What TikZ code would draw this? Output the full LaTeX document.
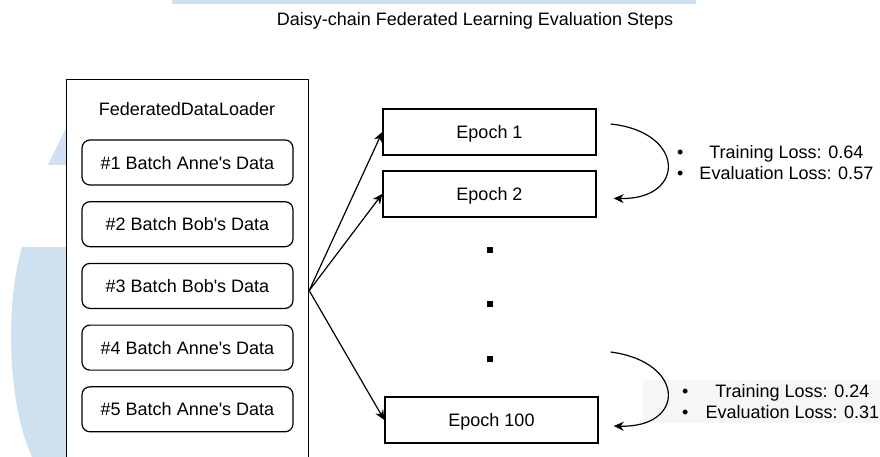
\documentclass[tikz,border=0pt]{standalone}
\usepackage{fontspec}
\setmainfont{Liberation Sans}
\usepackage{xcolor}
\usetikzlibrary{arrows.meta,positioning}
\definecolor{wmblue}{RGB}{207,224,240}
\definecolor{lossbg}{RGB}{246,246,246}

\begin{document}
\begin{tikzpicture}[
    x=1pt, y=-1pt,
    font=\fontsize{18}{21}\selectfont,
    loader/.style={draw, line width=1.2pt, fill=white, anchor=north west, minimum width=242pt, minimum height=400pt},
    batch/.style={draw, line width=1.2pt, rounded corners=8pt, fill=white, minimum width=211pt, minimum height=45pt, text depth=0pt},
    epoch/.style={draw, line width=1.4pt, fill=white, minimum width=213pt, minimum height=46pt, text depth=0pt},
    dotsq/.style={fill=black, minimum size=5.5pt, inner sep=0pt},
    loss/.style={anchor=west, inner sep=0pt},
    arrow/.style={-{Stealth[length=10pt,width=9pt]}, line width=1.2pt}
]
\useasboundingbox (0,0) rectangle (880,457);
\fill[white] (0,0) rectangle (880,457);
\clip (0,0) rectangle (880,457);

% watermark in the background
\fill[wmblue] (172,0) rectangle (696,4);
\fill[wmblue] (48,165) -- (67,126) -- (67,165) -- cycle;
\fill[wmblue] (67,247) -- (22,247) .. controls (6,300) and (6,400) .. (32,457) -- (67,457) -- cycle;
\fill[lossbg] (643,380) rectangle (880,423);

\node[anchor=base] (title) at (475,25.5) {Daisy-chain Federated Learning Evaluation Steps};

% data loader with its batches
\node[loader] (loader) at (66,79) {};
\node[text depth=0pt] (loadername) at (187,109) {FederatedDataLoader};
\node[batch] (b1) at (187.5,162.5) {\#1 Batch Anne\textquotesingle s Data};
\node[batch, below=15.5pt of b1] (b2) {\#2 Batch Bob\textquotesingle s Data};
\node[batch, below=15.5pt of b2] (b3) {\#3 Batch Bob\textquotesingle s Data};
\node[batch, below=15.5pt of b3] (b4) {\#4 Batch Anne\textquotesingle s Data};
\node[batch, below=15.5pt of b4] (b5) {\#5 Batch Anne\textquotesingle s Data};

% epochs
\node[epoch] (e1) at (489.5,132) {Epoch 1};
\node[epoch, below=14.5pt of e1] (e2) {Epoch 2};
\node[epoch] (e100) at (491.5,420) {Epoch 100};
\foreach \y [count=\i] in {250,304,359}
    \node[dotsq] (d\i) at (490,\y) {};

\coordinate (fan) at ([yshift=-11pt]loader.east);
\draw[arrow] (fan) -- (e1.west);
\draw[arrow] (fan) -- (e2.west);
\draw[arrow] (fan) -- (e100.west);

% losses between epochs
\coordinate (c1s) at ([xshift=14pt,yshift=8pt]e1.east);
\coordinate (c1e) at ([xshift=17pt,yshift=-4.5pt]e2.east);
\draw[arrow] (c1s) .. controls (686,132) and (686,200) .. (c1e);
\node[loss] (loss1) at (677,164.8) {\begin{tabular}{@{}c@{\hspace{16pt}}c@{}}\textbullet & Training Loss: 0.64\\ \textbullet & Evaluation Loss: 0.57\end{tabular}};

\coordinate (c2s) at ([xshift=12pt,yshift=68pt]e100.east);
\coordinate (c2e) at ([xshift=15pt,yshift=-6pt]e100.east);
\draw[arrow] (c2s) .. controls (686,362) and (686,428) .. (c2e);
\node[loss] (loss2) at (682,403.8) {\begin{tabular}{@{}c@{\hspace{17pt}}c@{}}\textbullet & Training Loss: 0.24\\ \textbullet & Evaluation Loss: 0.31\end{tabular}};
\end{tikzpicture}
\end{document}
